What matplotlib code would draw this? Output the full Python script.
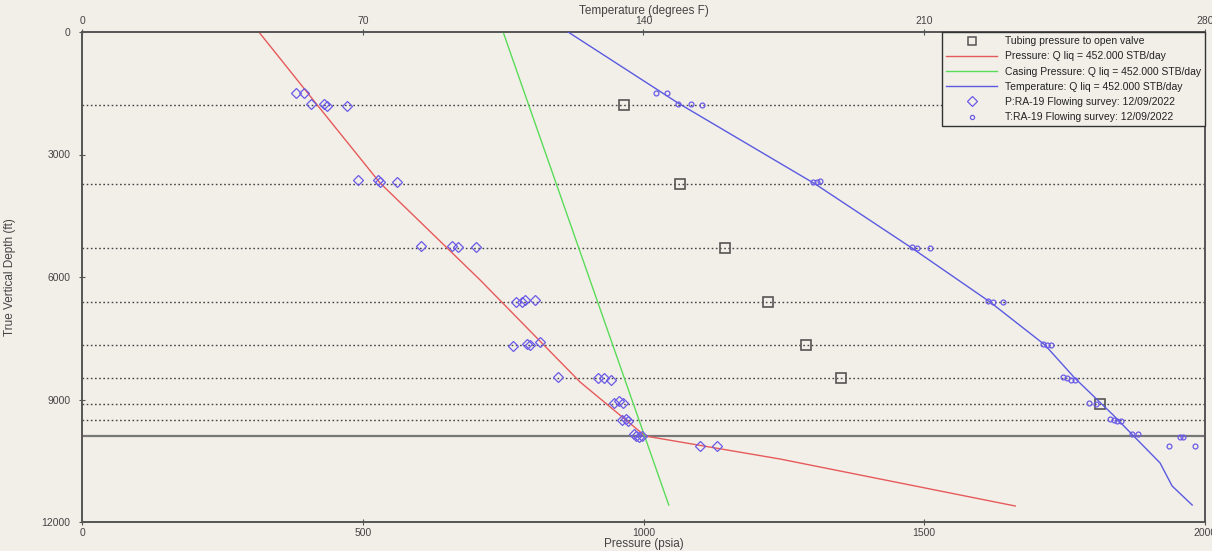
import matplotlib
matplotlib.use("Agg")
import matplotlib.pyplot as plt
from matplotlib.lines import Line2D

plt.rcParams['font.family'] = ['Liberation Sans', 'DejaVu Sans']

BG = '#F2EFE9'
AXC = '#555555'

# Gas-lift valve depths (ft) and tubing pressure needed to open each valve (psia)
valve_depth = [1788, 3722, 5290, 6612, 7665, 8473, 9110, 9502]
open_depth = [1788, 3722, 5290, 6612, 7665, 8473, 9110]
open_psi = [965, 1065, 1145, 1222, 1289, 1352, 1813]
packer_depth = 9894

# Calculated flowing pressure traverse
press_depth = [0, 1788, 3700, 6073, 8571, 9894, 10457, 11608]
press_psi = [315, 419, 531, 709, 887, 1003, 1243, 1662]

# Casing (injection gas) pressure
casing_depth = [0, 11584]
casing_psi = [750, 1045]

# Calculated flowing temperature
temp_depth = [0, 1739, 3722, 5290, 6612, 7665, 8473, 9380, 10555, 11118, 11584]
temp_F = [121.2, 148.6, 182.8, 206.9, 226.4, 240.1, 247.5, 257.1, 268.8, 271.8, 276.8]

# Flowing survey: pressure gauge readings
surv_p_psi = [381, 395, 408, 431, 436, 472,
              492, 527, 531, 561,
              604, 659, 670, 702,
              773, 784, 789, 807,
              768, 793, 798, 816,
              848, 919, 930, 942,
              947, 956, 963,
              962, 969, 972,
              983, 987, 992, 997,
              1101, 1131]
surv_p_depth = [1494, 1494, 1763, 1763, 1812, 1812,
                3624, 3624, 3673, 3673,
                5241, 5241, 5265, 5265,
                6612, 6612, 6563, 6563,
                7690, 7641, 7665, 7592,
                8449, 8473, 8473, 8522,
                9086, 9037, 9086,
                9502, 9478, 9527,
                9845, 9894, 9918, 9894,
                10139, 10139]

# Flowing survey: temperature gauge readings
surv_t_F = [143.1, 145.9, 148.6, 151.8, 154.6,
            182.3, 183.3, 184.0,
            206.9, 208.2, 211.4,
            225.9, 227.1, 229.6,
            239.6, 240.6, 241.6,
            244.6, 245.6, 246.6, 247.6,
            251.1, 252.8,
            256.3, 257.3, 258.1, 259.1,
            261.8, 263.3,
            273.8, 274.5,
            271.0, 277.5]
surv_t_depth = [1494, 1494, 1763, 1763, 1788,
                3673, 3673, 3648,
                5265, 5290, 5290,
                6588, 6612, 6612,
                7641, 7665, 7665,
                8449, 8473, 8522, 8522,
                9086, 9110,
                9478, 9502, 9527, 9527,
                9845, 9845,
                9918, 9918,
                10139, 10139]

fig = plt.figure(figsize=(12.12, 5.51), dpi=100, facecolor=BG)
ax = fig.add_axes([82 / 1212, 1 - 522 / 551, (1205 - 82) / 1212, (522 - 32) / 551])
ax.set_facecolor(BG)

ax.set_xlim(0, 2000)
ax.set_ylim(12000, 0)

for d in valve_depth:
    ax.axhline(d, color='#444444', linestyle=(0, (1.2, 1.8)), lw=1.0, zorder=1)
ax.axhline(packer_depth, color='#777777', lw=1.6, zorder=1)

red = '#E65A5A'
green = '#5ADC5A'
blue = '#5A5AE0'
mk = '#6A5AE6'

ax.plot(press_psi, press_depth, color=red, lw=1.0, zorder=3)
ax.plot(casing_psi, casing_depth, color=green, lw=1.0, zorder=3)
ax.plot(open_psi, open_depth, linestyle='none', marker='s', ms=7, mfc='none',
        mec='#555555', mew=1.2, zorder=4)
ax.plot(surv_p_psi, surv_p_depth, linestyle='none', marker='D', ms=5, mfc='none',
        mec=mk, mew=0.9, zorder=4)

axt = ax.twiny()
axt.set_xlim(0, 280)
axt.set_ylim(12000, 0)
axt.patch.set_visible(False)
axt.plot(temp_F, temp_depth, color=blue, lw=1.0, zorder=3)
axt.plot(surv_t_F, surv_t_depth, linestyle='none', marker='o', ms=3.5, mfc='none',
         mec=mk, mew=0.9, zorder=4)

tick_kw = dict(direction='inout', length=5, width=0.8, color=AXC, labelsize=7.5,
               labelcolor='#444444')
ax.set_xticks([0, 500, 1000, 1500, 2000])
ax.set_yticks([0, 3000, 6000, 9000, 12000])
ax.tick_params(axis='x', pad=2, **tick_kw)
ax.tick_params(axis='y', pad=6, **tick_kw)
axt.set_xticks([0, 70, 140, 210, 280])
axt.tick_params(axis='x', pad=2, **tick_kw)

for a in (ax, axt):
    for s in a.spines.values():
        s.set_color(AXC)
        s.set_linewidth(1.2)

ax.set_xlabel('Pressure (psia)', fontsize=8.5, color='#444444', labelpad=0)
axt.set_xlabel('Temperature (degrees F)', fontsize=8.5, color='#444444', labelpad=1)
ax.set_ylabel('True Vertical Depth (ft)', fontsize=8.5, color='#444444', labelpad=18)

handles = [
    Line2D([], [], linestyle='none', marker='s', ms=6, mfc='none', mec='#555555', mew=1.1),
    Line2D([], [], color=red, lw=1.0),
    Line2D([], [], color=green, lw=1.0),
    Line2D([], [], color=blue, lw=1.0),
    Line2D([], [], linestyle='none', marker='D', ms=5, mfc='none', mec=mk, mew=0.9),
    Line2D([], [], linestyle='none', marker='o', ms=3, mfc='none', mec=mk, mew=0.9),
]
labels = [
    'Tubing pressure to open valve',
    'Pressure: Q liq = 452.000 STB/day',
    'Casing Pressure: Q liq = 452.000 STB/day',
    'Temperature: Q liq = 452.000 STB/day',
    'P:RA-19 Flowing survey: 12/09/2022',
    'T:RA-19 Flowing survey: 12/09/2022',
]
leg = axt.legend(handles, labels, loc='upper right', bbox_to_anchor=(1.0, 1.0),
                 borderaxespad=0, fontsize=7.5, frameon=True, fancybox=False,
                 handlelength=4.9, handletextpad=0.7, labelspacing=0.5,
                 borderpad=0.4, facecolor=BG, edgecolor='#333333', framealpha=1)
leg.get_frame().set_linewidth(1.0)
for t in leg.get_texts():
    t.set_color('#222222')

fig.savefig('out.png', dpi=100, facecolor=BG)
